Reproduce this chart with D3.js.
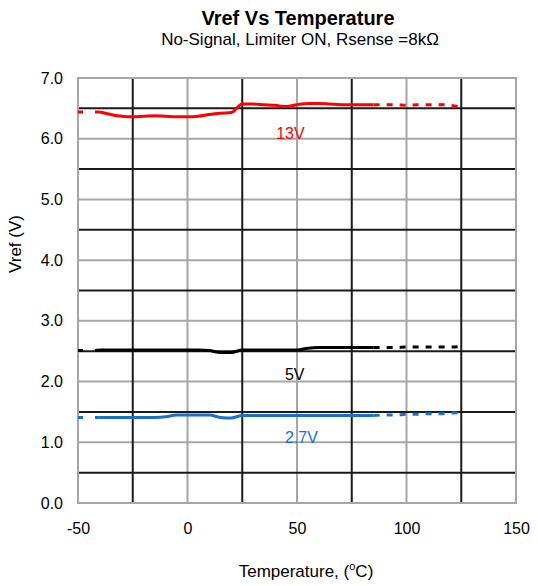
<!DOCTYPE html>
<html><head><meta charset="utf-8">
<script src="https://cdn.jsdelivr.net/npm/d3@7"></script>
<style>body{margin:0;background:#fff}svg{display:block}text{font-family:"Liberation Sans",Arial,sans-serif}</style>
</head><body><svg id="c" width="538" height="586"></svg>
<script>
const temps = [-50,-45,-40,-35,-30,-25,-20,-15,-10,-5,0,5,10,15,20,25,30,35,40,45,50,55,60,65,70,75,80,85,90,95,100,105,110,115,120,125];
const v13  = [6.44,6.44,6.44,6.40,6.37,6.36,6.37,6.38,6.37,6.36,6.36,6.37,6.40,6.42,6.43,6.57,6.57,6.56,6.55,6.53,6.56,6.58,6.58,6.57,6.56,6.56,6.56,6.56,6.56,6.56,6.55,6.56,6.56,6.56,6.55,6.52];
const v5   = [2.51,2.51,2.52,2.52,2.52,2.52,2.52,2.52,2.52,2.52,2.52,2.52,2.51,2.48,2.48,2.52,2.52,2.52,2.52,2.52,2.52,2.55,2.56,2.56,2.56,2.56,2.56,2.56,2.56,2.56,2.57,2.57,2.57,2.57,2.57,2.58];
const v27  = [1.41,1.41,1.41,1.41,1.41,1.41,1.41,1.41,1.42,1.45,1.45,1.45,1.45,1.41,1.40,1.44,1.44,1.44,1.44,1.44,1.44,1.44,1.44,1.44,1.44,1.44,1.44,1.44,1.45,1.45,1.46,1.46,1.47,1.47,1.48,1.49];
const seriesNames = ["13V","5V","2.7V"];
const seriesColors = ["#ff0000","#000000","#1a6fcc"];
const xTicks = [-50,0,50,100,150];
const yTicks = [0,1,2,3,4,5,6,7];

const svg = d3.select("#c");
const L=78,R=516,T=78,B=503;
const x = d3.scaleLinear().domain([-50,150]).range([L,R]);
const y = d3.scaleLinear().domain([0,7]).range([B,T]);

// grid
const g = svg.append("g");
const hMinor = d3.range(0.5,7,1), vMinor=[-25,25,75,125];
g.append("g").selectAll("line").data(d3.range(1,7)).join("line").attr("x1",L).attr("x2",R).attr("y1",d=>y(d)).attr("y2",d=>y(d)).attr("stroke","#a6a6a6").attr("stroke-width",2);
g.append("g").selectAll("line").data([0,50,100]).join("line").attr("y1",T).attr("y2",B).attr("x1",d=>x(d)).attr("x2",d=>x(d)).attr("stroke","#a6a6a6").attr("stroke-width",2);
g.append("g").selectAll("line").data(hMinor).join("line").attr("x1",L).attr("x2",R).attr("y1",d=>y(d)).attr("y2",d=>y(d)).attr("stroke","#1a1a1a").attr("stroke-width",2);
g.append("g").selectAll("line").data(vMinor).join("line").attr("y1",T).attr("y2",B).attr("x1",d=>x(d)).attr("x2",d=>x(d)).attr("stroke","#1a1a1a").attr("stroke-width",2);
g.append("rect").attr("x",L).attr("y",T).attr("width",R-L).attr("height",B-T).attr("fill","none").attr("stroke","#a6a6a6").attr("stroke-width",2);

// axes
const ax = svg.append("g").attr("transform",`translate(0,${B})`).call(d3.axisBottom(x).tickValues(xTicks).tickSize(0).tickPadding(20).tickFormat(d=>String(d)));
const ay = svg.append("g").attr("transform",`translate(${L},0)`).call(d3.axisLeft(y).tickValues(yTicks).tickSize(0).tickPadding(15).tickFormat(d3.format(".1f")));
[ax,ay].forEach(a=>{a.select(".domain").remove();a.selectAll("text").attr("font-size",16).attr("fill","#000").style("font-family",'"Liberation Sans",Arial,sans-serif');});

// lines
const all=[v13,v5,v27];
all.forEach((vals,i)=>{
  const pts = temps.map((t,j)=>({t,v:vals[j]}));
  const inSolid = d=>d.t>=-40 && d.t<=85;
  const solid = d3.line().defined(inSolid).x(d=>x(d.t)).y(d=>y(d.v)).curve(d3.curveMonotoneX);
  svg.append("path").attr("d",solid(pts)).attr("fill","none").attr("stroke",seriesColors[i]).attr("stroke-width",3);
  const left = pts.filter(d=>d.t<=-40), right=pts.filter(d=>d.t>=85);
  const dl = d3.line().x(d=>x(d.t)).y(d=>y(d.v)).curve(d3.curveMonotoneX);
  svg.append("path").attr("d",dl(left)).attr("fill","none").attr("stroke",seriesColors[i]).attr("stroke-width",3).attr("stroke-dasharray","5,12");
  svg.append("path").attr("d",dl(right)).attr("fill","none").attr("stroke",seriesColors[i]).attr("stroke-width",3).attr("stroke-dasharray","6,7");
});

// series labels
const labelPos = [[40.5,6.0],[44.5,2.03],[44.5,0.99]];
seriesNames.forEach((n,i)=>{
  svg.append("text").attr("x",x(labelPos[i][0])).attr("y",y(labelPos[i][1])).attr("font-size",16).attr("fill",i===1?"#000":seriesColors[i]).text(n);
});

// titles
svg.append("text").attr("x",298).attr("y",25).attr("text-anchor","middle").attr("font-size",20).attr("font-weight","bold").text("Vref Vs Temperature");
svg.append("text").attr("x",300).attr("y",45).attr("text-anchor","middle").attr("font-size",17).text("No-Signal, Limiter ON, Rsense =8kΩ");
const xl = svg.append("text").attr("x",306).attr("y",577).attr("text-anchor","middle").attr("font-size",17);
xl.append("tspan").text("Temperature, (");
xl.append("tspan").attr("font-size",11).attr("dy",-7).text("o");
xl.append("tspan").attr("dy",7).text("C)");
svg.append("text").attr("transform","translate(21,244) rotate(-90)").attr("text-anchor","middle").attr("font-size",17).text("Vref (V)");
</script></body></html>
